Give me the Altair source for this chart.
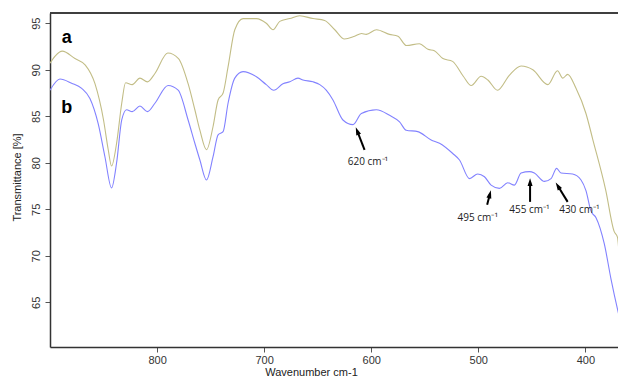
import math
import altair as alt
import pandas as pd

# ---- data ----
a_wavenumber = [900, 895, 888.5, 876.7, 867, 858, 850, 845.6, 842.5, 837.8, 833, 829.4, 823.2, 816, 809,
                802, 790, 780, 771, 764.7, 760, 753.8, 747.7, 743, 738.3, 733.7, 727.4, 719.7, 707.2,
                698, 691.7, 685.4, 676, 666.8, 654.4, 643.5, 634, 625, 615.5, 609, 604.6, 595, 583,
                575, 567, 555, 547, 541, 533, 524, 514, 506.6, 497.3, 491, 482, 471, 460, 449, 435,
                426, 421, 416.5, 408.7, 399.4, 393, 381, 373, 370, 366.7, 362]
a_transmittance = [90.7, 91.5, 92.0, 91.2, 90.5, 88.5, 84.6, 81.4, 79.65, 82.1, 86.4, 88.6, 88.4, 89.1, 88.7,
                   89.6, 91.8, 91.2, 88.5, 85.7, 83.5, 81.4, 83.9, 86.75, 87.5, 90.3, 94.3, 95.5, 95.5,
                   95.0, 94.3, 95.2, 95.5, 95.8, 95.5, 95.3, 94.3, 93.3, 93.6, 93.9, 93.8, 94.3, 93.8,
                   93.6, 92.6, 92.8, 92.2, 92.05, 91.2, 90.9, 89.3, 88.3, 89.3, 88.9, 87.8, 89.4, 90.4, 90.0, 88.4,
                   89.9, 89.1, 89.5, 88.0, 85.3, 82.5, 77.1, 72.6, 72.0, 67.8, 65.6]

b_wavenumber = [900, 890.7, 879.8, 870.4, 862.7, 855, 848.7, 842.5, 837.8, 833, 828.5, 823.2, 816, 809,
                802, 789.7, 780.3, 771, 764.7, 760, 753.8, 747.7, 743, 738.3, 733.7, 727.4, 719.7,
                707.2, 698, 691, 682.4, 676, 668.4, 663.7, 654.4, 648, 642, 635.7, 626.4, 617, 609.2,
                595.2, 582.8, 573.5, 567.3, 556.5, 544, 536.2, 523.8, 517.5, 508.2, 500.5, 494.2, 488,
                480.2, 472.5, 466.2, 460, 452.2, 447.6, 438.2, 432, 426.8, 422.7, 411.9, 404, 399.4,
                394.7, 390, 382.3, 376, 370, 362]
b_transmittance = [87.8, 89.0, 88.55, 88.0, 86.9, 84.2, 80.65, 77.3, 80.0, 84.6, 85.7, 85.5, 86.1, 85.5,
                   86.4, 88.3, 87.8, 84.6, 82.1, 80.3, 78.15, 80.65, 83.0, 83.35, 86.4, 89.1, 89.8,
                   89.25, 88.4, 87.8, 88.5, 88.7, 89.1, 88.9, 88.7, 88.4, 87.8, 86.75, 84.6, 84.1, 85.3,
                   85.7, 85.1, 84.4, 83.5, 83.35, 82.45, 82.1, 81.0, 80.3, 78.3, 78.8, 78.5, 77.6,
                   77.25, 77.85, 77.6, 78.9, 79.05, 78.9, 78.0, 78.3, 79.4, 78.9, 78.8, 78.15, 77.0,
                   74.8, 74.1, 71.3, 67.5, 64.3, 60.7]

x_ticks = [800, 700, 600, 500, 400]
y_ticks = [65, 70, 75, 80, 85, 90, 95]

curve_names = ["a", "b"]
curve_label_x = [884.4, 884.4]
curve_label_y = [93.4, 85.9]

peak_labels = ["620 cm⁻¹", "495 cm⁻¹", "455 cm⁻¹", "430 cm⁻¹"]
arrow_tail_x = [606.2, 491.7, 451.6, 416.5]
arrow_tail_y = [81.4, 75.5, 75.8, 75.8]
arrow_head_x = [613.0, 489.2, 451.6, 425.6]
arrow_head_y = [83.4, 76.6, 77.9, 77.5]
label_x = [603.1, 500.5, 452.2, 405.6]
label_y = [80.1, 74.1, 74.9, 74.9]

# ---- layout ----
X_DOMAIN = [362, 900]
Y_DOMAIN = [60.2, 96.1]
W, H = 576, 334

px_per_x = W / (X_DOMAIN[1] - X_DOMAIN[0])
px_per_y = H / (Y_DOMAIN[1] - Y_DOMAIN[0])

curves = pd.concat([
    pd.DataFrame({"wn": a_wavenumber, "t": a_transmittance, "s": "a"}),
    pd.DataFrame({"wn": b_wavenumber, "t": b_transmittance, "s": "b"}),
])

angles = []
for tx, ty, hx, hy in zip(arrow_tail_x, arrow_tail_y, arrow_head_x, arrow_head_y):
    dx = -(hx - tx) * px_per_x
    dy = -(hy - ty) * px_per_y
    angles.append(math.degrees(math.atan2(dx, -dy)) % 360)

arrows = pd.DataFrame({"tx": arrow_tail_x, "ty": arrow_tail_y, "hx": arrow_head_x,
                       "hy": arrow_head_y, "ang": angles, "lx": label_x, "ly": label_y,
                       "lab": peak_labels})
names = pd.DataFrame({"x": curve_label_x, "y": curve_label_y, "n": curve_names})

xs = alt.Scale(domain=X_DOMAIN, reverse=True, nice=False, zero=False)
ys = alt.Scale(domain=Y_DOMAIN, nice=False, zero=False)

x_axis = alt.Axis(values=x_ticks, grid=False, title="Wavenumber cm-1", tickSize=5,
                  labelPadding=2, titleX=261, titleY=30, titleAlign="center",
                  titleBaseline="bottom", titleFontWeight="normal")
y_axis = alt.Axis(values=y_ticks, grid=False, title="Transmittance [%]", tickSize=5,
                  labelAngle=270, labelAlign="center", labelBaseline="middle", labelPadding=9,
                  titleX=-33, titleY=164, titleAngle=270, titleAlign="center",
                  titleBaseline="middle", titleFontWeight="normal")

lines = alt.Chart(curves).mark_line(strokeWidth=1.1, interpolate="monotone", clip=True).encode(
    x=alt.X("wn:Q", scale=xs, axis=x_axis),
    y=alt.Y("t:Q", scale=ys, axis=y_axis),
    color=alt.Color("s:N", scale=alt.Scale(domain=["a", "b"], range=["#c2bd86", "#8282ff"]), legend=None),
    order=alt.Order("wn:Q"),
)

top_border = alt.Chart(names).mark_rule(color="#333", strokeWidth=1.5).encode(
    x=alt.value(0), x2=alt.value(W), y=alt.value(0)
)

name_text = alt.Chart(names).mark_text(fontSize=18, fontWeight="bold", font="Liberation Sans",
                                       color="black").encode(
    x=alt.X("x:Q", scale=xs), y=alt.Y("y:Q", scale=ys), text="n:N"
)

shafts = alt.Chart(arrows).mark_rule(strokeWidth=2, color="black").encode(
    x=alt.X("tx:Q", scale=xs), y=alt.Y("ty:Q", scale=ys), x2="hx:Q", y2="hy:Q"
)

heads = alt.Chart(arrows).mark_point(shape="M0,-1L0.6,0.9L-0.6,0.9Z", filled=True, opacity=1,
                                     color="black", size=70).encode(
    x=alt.X("hx:Q", scale=xs), y=alt.Y("hy:Q", scale=ys),
    angle=alt.Angle("ang:Q", scale=None)
)

peak_text = alt.Chart(arrows).mark_text(fontSize=10, font="Open Sans", color="#222").encode(
    x=alt.X("lx:Q", scale=xs), y=alt.Y("ly:Q", scale=ys), text="lab:N"
)

chart = alt.layer(lines, top_border, name_text, shafts, heads, peak_text).properties(
    width=W, height=H,
    autosize=alt.AutoSizeParams(type="none"),
    padding={"left": 42, "top": 5, "right": -8, "bottom": 30},
).configure_view(stroke=None).configure_axis(
    domainColor="#333", domainWidth=1.5, tickColor="#555", labelColor="#333", titleColor="#222",
    labelFont="Liberation Sans", titleFont="Liberation Sans", labelFontSize=11, titleFontSize=11,
)

chart.save("out.html", embed_options={"renderer": "svg", "actions": False})
